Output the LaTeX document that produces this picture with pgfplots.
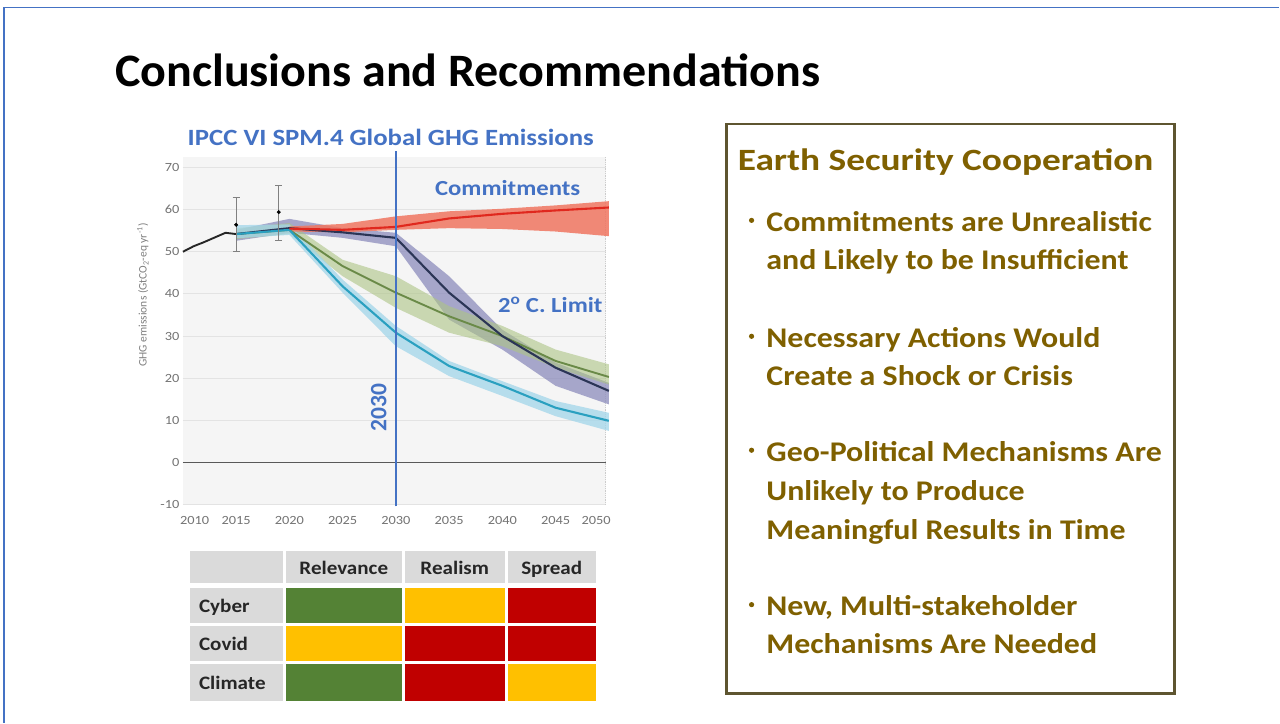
\documentclass[border=0pt]{standalone}
\usepackage{pgfplots}
\pgfplotsset{compat=1.18}
\usepackage{pgfplotstable}
\usepackage{fontspec}
\setmainfont{Carlito}
\newfontfamily\fA[FakeStretch=1.205]{Carlito}
\newfontfamily\fE[FakeStretch=1.12]{Carlito}
\newfontfamily\fB[FakeStretch=1.15]{Carlito}
\newfontfamily\fC[FakeStretch=1.11]{Carlito}
\newfontfamily\fD[FakeStretch=1.033]{Carlito}
\definecolor{slideblue}{HTML}{4472C4}
\definecolor{olivetxt}{HTML}{7F6000}
\definecolor{oliveline}{HTML}{5E5530}
\definecolor{plotbg}{HTML}{F5F5F5}
\definecolor{gridc}{HTML}{E3E3E3}
\definecolor{cgreen}{HTML}{548235}
\definecolor{cyellow}{HTML}{FFC000}
\definecolor{cred}{HTML}{C00000}
\definecolor{cgray}{HTML}{DADADA}
\definecolor{redband}{HTML}{F07560}
\definecolor{redline}{HTML}{E0281E}
\definecolor{purband}{HTML}{8C8CBC}
\definecolor{purline}{HTML}{2B3556}
\definecolor{grnband}{HTML}{ADC485}
\definecolor{grnline}{HTML}{6A8A48}
\definecolor{cyaband}{HTML}{A2D6EA}
\definecolor{cyaline}{HTML}{2AA0C0}

% historical emissions
\pgfplotstableread{
year val
2010 50.0
2011 51.3
2012 52.3
2013 53.4
2014 54.5
2015 54.2
}\hist

% medians
\pgfplotstableread{
year val
2020 55.5
2025 55.2
2030 55.9
2035 57.9
2040 59.0
2045 59.8
2050 60.5
}\commitmid
\pgfplotstableread{
year val
2015 54.2
2020 55.6
2025 54.6
2030 53.3
2035 40.3
2040 30.0
2045 22.5
2050 17.0
}\delayedmid
\pgfplotstableread{
year val
2015 54.2
2020 55.2
2025 46.6
2030 40.3
2035 34.7
2040 30.0
2045 24.1
2050 20.3
}\twodegmid
\pgfplotstableread{
year val
2015 54.2
2020 55.2
2025 41.8
2030 30.8
2035 22.9
2040 18.2
2045 13.0
2050 9.9
}\onefivemid

% ranges: upper edge forward, lower edge back
\pgfplotstableread{
year val
2020 56.0
2025 56.6
2030 58.4
2035 59.6
2040 60.2
2045 61.0
2050 62.0
2050 53.7
2045 54.8
2040 55.4
2035 55.6
2030 55.2
2025 54.6
2020 54.8
}\commitband
\pgfplotstableread{
year val
2015 55.2
2020 57.8
2025 55.6
2030 54.5
2035 44.2
2040 31.5
2045 23.7
2050 18.9
2050 13.8
2045 18.2
2040 26.8
2035 33.9
2030 51.3
2025 53.3
2020 54.5
2015 52.6
}\delayedband
\pgfplotstableread{
year val
2015 55.6
2020 56.8
2025 48.1
2030 44.2
2035 37.1
2040 32.4
2045 26.8
2050 23.3
2050 18.5
2045 22.5
2040 27.6
2035 30.8
2030 36.7
2025 44.2
2020 54.2
2015 53.0
}\twodegband
\pgfplotstableread{
year val
2015 56.3
2020 56.5
2025 43.4
2030 32.4
2035 24.1
2040 19.3
2045 14.6
2050 11.8
2050 7.5
2045 11.0
2040 15.8
2035 20.5
2030 27.6
2025 40.3
2020 54.0
2015 53.2
}\onefiveband

\pgfplotstableread{
year val ep em
2015.0 56.4 6.5 6.4
2019.0 59.4 6.4 6.7
}\errs

\begin{document}
\begin{tikzpicture}[x=1pt,y=1pt]
\fill[white] (0,0) rectangle (1280,723);

\begin{axis}[
  at={(183pt,218pt)}, anchor=south west,
  width=423pt, height=348pt, scale only axis,
  xmin=2010, xmax=2049.7, ymin=-10, ymax=72.5,
  axis background/.style={fill=plotbg},
  axis line style={draw=none},
  major tick length=0pt,
  ytick={-10,0,10,20,30,40,50,60,70},
  xtick={2011.1,2015,2020,2025,2030,2035,2040,2045,2048.8},
  xticklabels={2010,2015,2020,2025,2030,2035,2040,2045,2050},
  ymajorgrids, grid style={draw=gridc, line width=1pt},
  tick label style={font=\fB\fontsize{12.5}{14}\selectfont, text=gray!90!black},
  /pgf/number format/assume math mode=true,
  xticklabel style={yshift=-8pt},
  clip=false,
]
\draw[gray!40, densely dotted, line width=0.8pt] (rel axis cs:1,0) -- (rel axis cs:1,1);
\addplot[gray!70!black, line width=1pt, forget plot] coordinates {(2010,0) (2049.7,0)};

% bands
\addplot[fill=purband, fill opacity=0.75, draw=none] table[x=year,y=val] {\delayedband} -- cycle;
\addplot[fill=grnband, fill opacity=0.6, draw=none] table[x=year,y=val] {\twodegband} -- cycle;
\addplot[fill=cyaband, fill opacity=0.75, draw=none] table[x=year,y=val] {\onefiveband} -- cycle;
\addplot[fill=redband, fill opacity=0.85, draw=none] table[x=year,y=val] {\commitband} -- cycle;

% median lines
\addplot[grnline, line width=1.9pt] table[x=year,y=val] {\twodegmid};
\addplot[purline, line width=2.1pt] table[x=year,y=val] {\delayedmid};
\addplot[cyaline, line width=2.1pt] table[x=year,y=val] {\onefivemid};
\addplot[redline, line width=2.1pt] table[x=year,y=val] {\commitmid};
\addplot[black!85, line width=1.9pt] table[x=year,y=val] {\hist};

% error bars
\addplot[only marks, mark=*, mark size=1.8pt, black,
  error bars/.cd, y dir=both, y explicit,
  error bar style={gray, line width=0.8pt},
  error mark options={gray, mark size=3.5pt, line width=0.8pt, rotate=90}]
  table[x=year, y=val, y error plus=ep, y error minus=em] {\errs};

% 2030 line
\addplot[slideblue, line width=2.5pt] coordinates {(2030,-10.4) (2030,73.8)};

\node[rotate=90, font=\fontsize{11.5}{13}\selectfont, text=gray] at (rel axis cs:-0.0946,0.603)
  {GHG emissions (GtCO\textsubscript{2}-eq yr\textsuperscript{-1})};
\node[font=\fB\fontsize{21.5}{24}\selectfont\bfseries, text=slideblue] at (axis cs:2040.5,65.2) {Commitments};
\node[font=\fB\fontsize{21.5}{24}\selectfont\bfseries, text=slideblue] at (axis cs:2044.5,37.4) {2\textsuperscript{o} C. Limit};
\node[rotate=90, font=\fontsize{23.5}{26}\selectfont\bfseries, text=slideblue] at (axis cs:2028.4,13.0) {2030};
\end{axis}

\begin{scope}[yshift=723pt, y=-1pt]
\draw[slideblue, line width=1.5pt] (4,723) -- (4,7.5) -- (1280,7.5);
\node[anchor=base west, inner sep=0pt, font=\fD\fontsize{46.5}{50}\selectfont\bfseries] at (115,86.7) {Conclusions and Recommendations};
\node[font=\fB\fontsize{23.3}{26}\selectfont\bfseries, text=slideblue] at (391,137) {IPCC VI SPM.4 Global GHG Emissions};

% table
\fill[cgray] (190,551.7) rectangle (283.3,583.3);
\fill[cgray] (286,551.7) rectangle (402.7,583.3);
\fill[cgray] (405,551.7) rectangle (505,583.3);
\fill[cgray] (508,551.7) rectangle (596.7,583.3);
\fill[cgray] (190,588.3) rectangle (283.3,623.3);
\fill[cgreen] (286,588.3) rectangle (402.7,623.3);
\fill[cyellow] (405,588.3) rectangle (505,623.3);
\fill[cred] (508,588.3) rectangle (596.7,623.3);
\fill[cgray] (190,626) rectangle (283.3,661.7);
\fill[cyellow] (286,626) rectangle (402.7,661.7);
\fill[cred] (405,626) rectangle (505,661.7);
\fill[cred] (508,626) rectangle (596.7,661.7);
\fill[cgray] (190,664) rectangle (283.3,701.7);
\fill[cgreen] (286,664) rectangle (402.7,701.7);
\fill[cred] (405,664) rectangle (505,701.7);
\fill[cyellow] (508,664) rectangle (596.7,701.7);
\begin{scope}[every node/.style={font=\fC\fontsize{19}{22}\selectfont\bfseries, text=black!85, inner sep=0pt}]
\node[anchor=base] at (344,574.5) {Relevance};
\node[anchor=base] at (455,574.5) {Realism};
\node[anchor=base] at (552,574.5) {Spread};
\node[anchor=base west] at (199,612.5) {Cyber};
\node[anchor=base west] at (199,650.5) {Covid};
\node[anchor=base west] at (199,689.5) {Climate};
\end{scope}

% right box
\draw[oliveline, line width=2.5pt] (727,124) rectangle (1175,694);
\begin{scope}[every node/.style={text=olivetxt, inner sep=0pt}]
\node[anchor=base west, font=\fA\fontsize{31}{34}\selectfont\bfseries] at (738,170.5) {Earth Security Cooperation};
\begin{scope}[every node/.append style={font=\fE\fontsize{28.5}{32}\selectfont\bfseries}]
\fill[olivetxt] (752,220.5) circle (2.6);
\node[anchor=base west] at (766.7,231.7) {Commitments are Unrealistic};
\node[anchor=base west] at (766.7,269.8) {and Likely to be Insufficient};
\fill[olivetxt] (752,336.5) circle (2.6);
\node[anchor=base west] at (766.7,347.8) {Necessary Actions Would};
\node[anchor=base west] at (766.7,386) {Create a Shock or Crisis};
\fill[olivetxt] (752,450.5) circle (2.6);
\node[anchor=base west] at (766.7,461.7) {Geo-Political Mechanisms Are};
\node[anchor=base west] at (766.7,500.6) {Unlikely to Produce};
\node[anchor=base west] at (766.7,539.5) {Meaningful Results in Time};
\fill[olivetxt] (752,605) circle (2.6);
\node[anchor=base west] at (766.7,616.3) {New, Multi-stakeholder};
\node[anchor=base west] at (766.7,654) {Mechanisms Are Needed};
\end{scope}
\end{scope}
\end{scope}
\end{tikzpicture}
\end{document}
